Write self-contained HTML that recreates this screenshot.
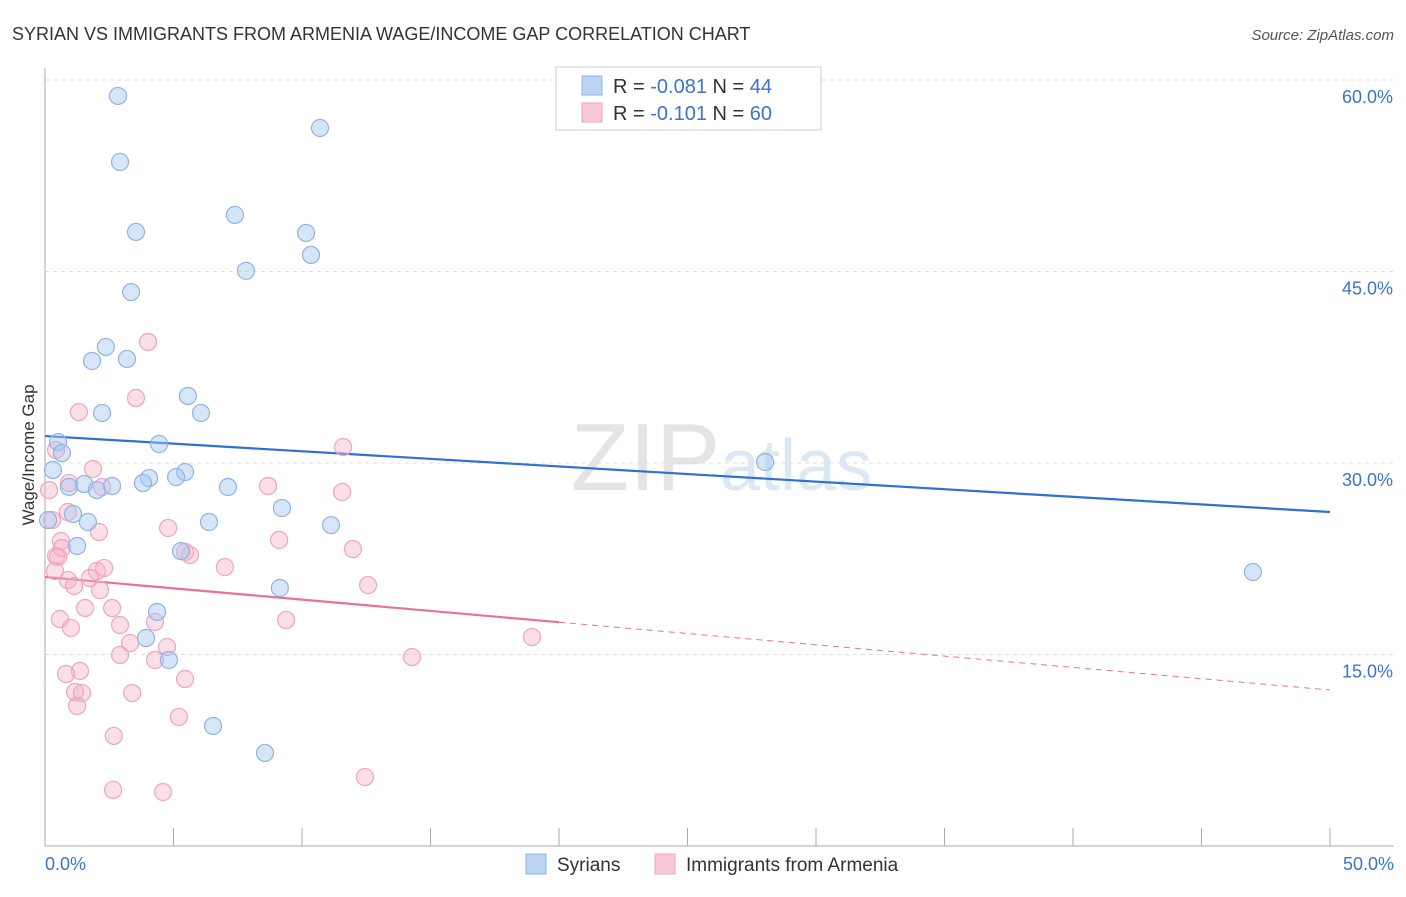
<!DOCTYPE html>
<html><head><meta charset="utf-8"><style>
body{margin:0;background:#fff;font-family:"Liberation Sans",sans-serif;}
svg text{font-family:"Liberation Sans",sans-serif;}
</style></head><body>
<svg id="chart" width="1406" height="892" xmlns="http://www.w3.org/2000/svg">
<text x="12" y="40" font-size="18" fill="#333">SYRIAN VS IMMIGRANTS FROM ARMENIA WAGE/INCOME GAP CORRELATION CHART</text>
<text x="1394" y="40" font-size="15" fill="#555" font-style="italic" text-anchor="end">Source: ZipAtlas.com</text>
<text x="720" y="490" font-size="96" fill="#e4e4e4" text-anchor="end" font-family="Liberation Serif">ZIP</text>
<text x="720" y="490" font-size="72" fill="#dde8f5">atlas</text>
<g id="grid"></g><g id="axes"></g><g id="lines"></g><g id="pts"></g>
<text transform="translate(34,455) rotate(-90)" font-size="17" fill="#333" text-anchor="middle">Wage/Income Gap</text>
<g>
<rect x="556" y="67" width="265" height="63" fill="#fff" stroke="#ccc"/>
<rect x="582" y="76" width="20" height="19" fill="#bcd5f5" stroke="#8fb4e3"/>
<text x="613" y="93" font-size="20" fill="#333">R = <tspan fill="#3a73d0">-0.081</tspan>   N = <tspan fill="#3a73d0">44</tspan></text>
<rect x="582" y="103" width="20" height="19" fill="#f8c8d6" stroke="#eea5bd"/>
<text x="613" y="120" font-size="20" fill="#333">R =  <tspan fill="#3a73d0">-0.101</tspan>   N = <tspan fill="#3a73d0">60</tspan></text>
</g>
<g>
<rect x="526" y="854" width="20" height="20" fill="#bcd5f5" stroke="#8fb4e3"/>
<text x="557" y="871" font-size="19" fill="#333">Syrians</text>
<rect x="655" y="854" width="20" height="20" fill="#f8c8d6" stroke="#eea5bd"/>
<text x="686" y="871" font-size="19" fill="#333">Immigrants from Armenia</text>
</g>
</svg>
<script>
const blueX=[2.84,10.70,2.92,7.39,10.16,3.54,10.35,7.82,3.35,2.37,1.83,3.19,5.56,6.07,2.22,0.51,4.44,0.66,0.31,5.45,5.10,4.05,3.81,0.93,1.52,2.02,2.61,7.12,9.22,1.09,1.67,0.12,6.38,11.13,1.25,5.29,9.14,4.36,3.93,4.82,6.54,8.56,28.02,47.00];
const blueY=[58.75,56.24,53.58,49.43,48.02,48.10,46.30,45.05,43.39,39.09,37.99,38.15,35.25,33.92,33.92,31.64,31.49,30.78,29.45,29.29,28.90,28.82,28.43,28.12,28.35,27.88,28.20,28.12,26.47,26.00,25.38,25.53,25.38,25.14,23.50,23.10,20.21,18.33,16.29,14.57,9.40,7.29,30.08,21.46];
const pinkX=[4.01,3.54,1.32,11.60,0.43,1.87,0.16,0.93,2.22,8.68,11.56,0.89,0.27,2.10,4.79,0.62,9.11,0.43,5.45,5.64,11.98,0.66,7.00,0.51,2.02,2.30,0.89,1.75,0.39,12.57,1.13,2.14,2.61,1.56,0.58,9.38,2.92,1.01,4.28,18.95,4.75,3.31,2.92,4.28,14.28,1.36,0.82,5.45,1.17,1.44,3.39,1.25,5.21,2.68,12.45,2.65,4.59];
const pinkY=[39.48,35.09,33.99,31.25,31.02,29.53,27.88,28.43,28.12,28.20,27.73,26.16,25.53,24.59,24.91,23.89,23.97,22.71,23.03,22.79,23.26,23.34,21.85,22.64,21.54,21.78,20.83,20.99,21.54,20.44,20.37,20.05,18.64,18.64,17.78,17.70,17.31,17.08,17.55,16.37,15.59,15.90,14.96,14.57,14.80,13.71,13.47,13.08,12.06,11.98,11.98,10.97,10.11,8.62,5.40,4.39,4.23];
const yTicks=[15,30,45,60];
const yTickLabels=["15.0%","30.0%","45.0%","60.0%"];
const xTicks=[0,5,10,15,20,25,30,35,40,45,50];
const blueTrend=[32.11,26.16];
const pinkTrend=[21.07,12.22];
const pinkSolidEnd=20;
const NS="http://www.w3.org/2000/svg";
const sx=v=>45+v/50*1285, sy=v=>846-v/15*191.5;
function mk(tag,attrs,parent){const e=document.createElementNS(NS,tag);for(const k in attrs)e.setAttribute(k,attrs[k]);document.getElementById(parent).appendChild(e);return e;}
yTicks.forEach((t,i)=>{
 const l=mk('line',{x1:45,x2:1394,y1:sy(t),y2:sy(t),stroke:'#ddd','stroke-dasharray':'4,4'},'grid');
 
 
 const tx=mk('text',{x:1393,y:sy(t)+23,'font-size':18,fill:'#3a73d0','text-anchor':'end'},'grid');
 tx.textContent=yTickLabels[i];
 
 
});
const ya=mk('line',{x1:45,x2:45,y1:68,y2:846,stroke:'#aaa'},'axes');


const xa=mk('line',{x1:45,x2:1394,y1:846,y2:846,stroke:'#aaa'},'axes');


xTicks.forEach(t=>{
 const l=mk('line',{x1:sx(t),x2:sx(t),y1:828,y2:846,stroke:'#aaa'},'axes');
 
 
});
const xl0=mk('text',{x:45,y:870,'font-size':18,fill:'#3a73d0'},'axes');xl0.textContent='0.0%';


const xl1=mk('text',{x:1394,y:870,'font-size':18,fill:'#3a73d0','text-anchor':'end'},'axes');xl1.textContent='50.0%';


pinkX.forEach((x,i)=>{
 const c=mk('circle',{cx:sx(x),cy:sy(pinkY[i]),r:8.5,fill:'rgba(245,175,198,0.4)',stroke:'#eea5bd','stroke-width':1.2},'pts');
 
 
});
blueX.forEach((x,i)=>{
 const c=mk('circle',{cx:sx(x),cy:sy(blueY[i]),r:8.5,fill:'rgba(165,200,240,0.45)',stroke:'#8fb4e3','stroke-width':1.2},'pts');
 
 
});
const bl=mk('line',{x1:sx(0),y1:sy(blueTrend[0]),x2:sx(50),y2:sy(blueTrend[1]),stroke:'#2f6fd6','stroke-width':2.2},'lines');


const pm=pinkTrend[0]+(pinkTrend[1]-pinkTrend[0])*pinkSolidEnd/50;
const pl=mk('line',{x1:sx(0),y1:sy(pinkTrend[0]),x2:sx(pinkSolidEnd),y2:sy(pm),stroke:'#e8709a','stroke-width':2.2},'lines');


const pd=mk('line',{x1:sx(pinkSolidEnd),y1:sy(pm),x2:sx(50),y2:sy(pinkTrend[1]),stroke:'#e8709a','stroke-width':1,'stroke-dasharray':'6,5'},'lines');


</script>
</body></html>
